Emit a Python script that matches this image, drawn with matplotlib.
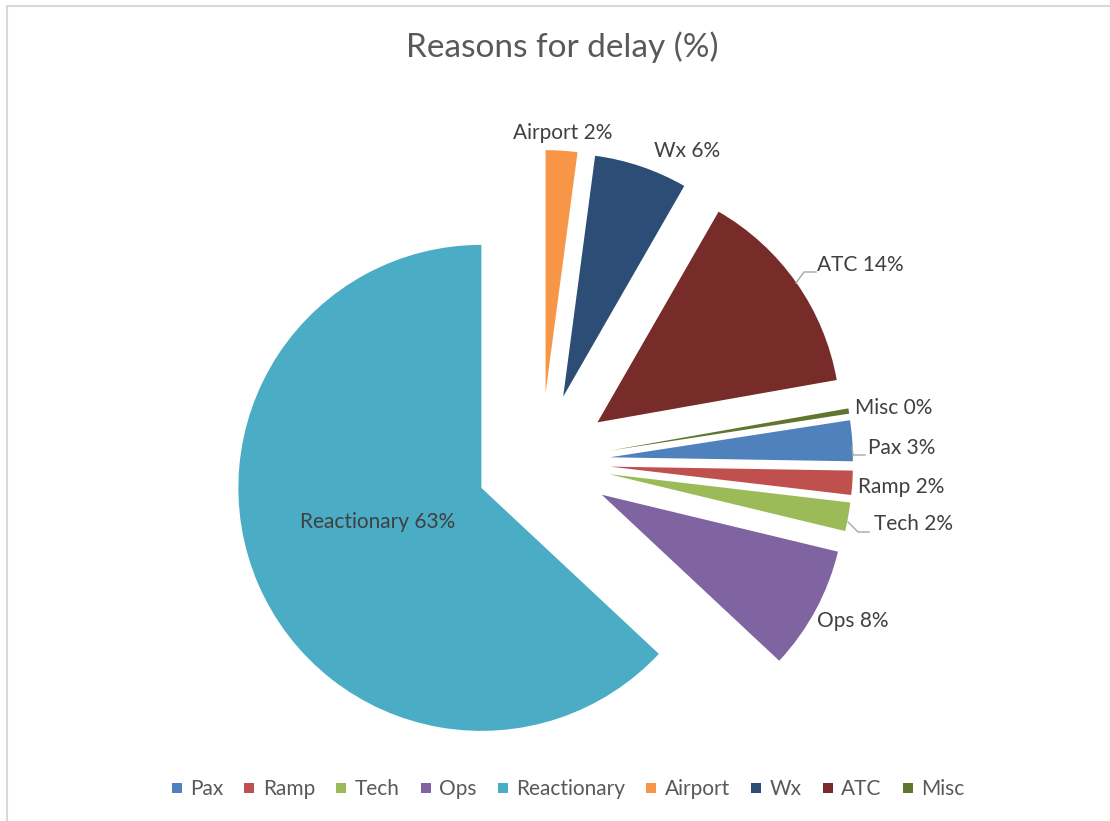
import matplotlib
matplotlib.use('Agg')
import matplotlib.pyplot as plt
from matplotlib.lines import Line2D

# ---- data ----
categories = ['Pax', 'Ramp', 'Tech', 'Ops', 'Reactionary', 'Airport', 'Wx', 'ATC', 'Misc']
values = [2.7, 1.6, 1.9, 8.2, 63.0, 2.1, 6.2, 13.9, 0.35]
colors = ['#4F81BD', '#C0504D', '#9BBB59', '#8064A2', '#4BACC6',
          '#F79646', '#2C4D75', '#772C2A', '#5F7530']
title = 'Reasons for delay (%)'

# ---- layout (pixels, origin top-left) ----
W, H = 1110, 821
CX, CY, R = 541, 462, 243
explode_px = [69, 69, 69, 69, 65, 69, 69, 69, 69]
label_pos = {
    'Pax': (902, 448), 'Ramp': (901, 487), 'Tech': (913, 524), 'Ops': (853, 621),
    'Reactionary': (378, 522), 'Airport': (563, 133), 'Wx': (687, 151),
    'ATC': (860, 265), 'Misc': (894, 408),
}
leaders = {
    'ATC': [(796, 283), (804, 272), (816, 272)],
    'Pax': [(852, 447), (853, 455), (865, 455)],
    'Tech': [(848, 522), (858, 532), (869, 532)],
}

FONT = ['Lato', 'DejaVu Sans']
plt.rcParams['font.family'] = FONT

fig = plt.figure(figsize=(W / 100, H / 100), dpi=100)
ax = fig.add_axes([0, 0, 1, 1])

total = sum(values)
before_first = sum(values[5:])  # slices clockwise between 12 o'clock and the first slice
start = 90 - 360 * before_first / total
ax.pie(values, colors=colors, explode=[e / R for e in explode_px], startangle=start,
       counterclock=False, radius=1, wedgeprops=dict(linewidth=0))
ax.set_xlim(-CX / R, (W - CX) / R)
ax.set_ylim(-(H - CY) / R, CY / R)
ax.set_aspect('auto')
ax.axis('off')

def fx(px):
    return px / W

def fy(py):
    return 1 - py / H

for cat, v in zip(categories, values):
    px, py = label_pos[cat]
    fig.text(fx(px), fy(py), f'{cat} {round(v / total * 100):.0f}%', ha='center', va='center',
             fontsize=15, color='#404040')

for cat, pts in leaders.items():
    fig.add_artist(Line2D([fx(p[0]) for p in pts], [fy(p[1]) for p in pts],
                          color='#A6A6A6', lw=1.0, transform=fig.transFigure))

fig.text(fx(562), fy(47), title, ha='center', va='center', fontsize=24, color='#595959')

handles = [Line2D([], [], marker='s', linestyle='none', markersize=6.5,
                  markerfacecolor=c, markeredgewidth=0) for c in colors]
fig.legend(handles, categories, loc='center', bbox_to_anchor=(fx(568), fy(789)), ncol=9,
           frameon=False, handlelength=0.5, handletextpad=0.4, columnspacing=1.0,
           fontsize=15, labelcolor='#595959')

# chart border (top and left visible)
fig.add_artist(Line2D([fx(7), fx(7), 1], [0, fy(6), fy(6)], color='#D9D9D9', lw=1.5,
                      transform=fig.transFigure))

fig.savefig('out.png', dpi=100, facecolor='white')
